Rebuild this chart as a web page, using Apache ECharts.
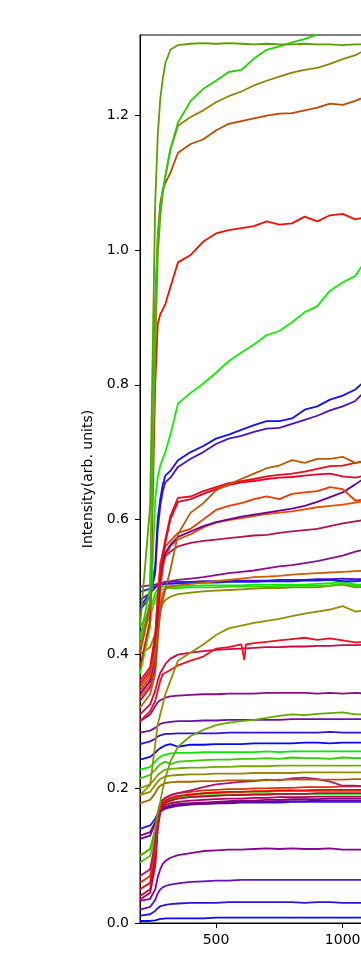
<!DOCTYPE html>
<html>
<head>
<meta charset="utf-8">
<script src="https://cdn.jsdelivr.net/npm/echarts@6/dist/echarts.min.js"></script>
<style>
  html, body { margin: 0; padding: 0; background: #fff; }
  #chart { width: 361px; height: 977px; }
</style>
</head>
<body>
<div id="chart"></div>
<script>
// x positions shared by every curve
const xs = [200, 240, 260, 270, 280, 290, 300, 320, 350, 400, 450, 500, 550, 600, 650, 700, 750, 800, 850, 900, 950, 1000, 1050, 1100];

// upper curves (plateau above 0.6)
const s01 = [0.44, 0.62, 1.07, 1.17, 1.225, 1.255, 1.278, 1.298, 1.305, 1.307, 1.308, 1.307, 1.308, 1.307, 1.306, 1.307, 1.306, 1.306, 1.307, 1.306, 1.306, 1.305, 1.306, 1.306];
const s02 = [0.42, 0.50, 0.90, 1.02, 1.06, 1.09, 1.11, 1.15, 1.19, 1.222, 1.24, 1.252, 1.265, 1.268, 1.285, 1.298, 1.303, 1.309, 1.314, 1.321, 1.33, 1.335, 1.34, 1.345];
const s03 = [0.41, 0.48, 0.85, 0.99, 1.05, 1.085, 1.11, 1.15, 1.185, 1.198, 1.208, 1.22, 1.229, 1.236, 1.245, 1.252, 1.258, 1.264, 1.268, 1.271, 1.277, 1.284, 1.29, 1.30];
const s04 = [0.40, 0.47, 0.92, 1.02, 1.07, 1.09, 1.10, 1.115, 1.145, 1.158, 1.165, 1.178, 1.188, 1.192, 1.196, 1.20, 1.203, 1.204, 1.208, 1.212, 1.218, 1.216, 1.222, 1.23];
const s05 = [0.38, 0.45, 0.80, 0.89, 0.905, 0.912, 0.92, 0.945, 0.982, 0.993, 1.013, 1.025, 1.03, 1.033, 1.036, 1.043, 1.038, 1.04, 1.05, 1.043, 1.052, 1.054, 1.046, 1.05];
const s06 = [0.37, 0.44, 0.63, 0.662, 0.68, 0.69, 0.70, 0.726, 0.772, 0.788, 0.802, 0.818, 0.835, 0.848, 0.86, 0.874, 0.88, 0.893, 0.908, 0.917, 0.94, 0.952, 0.962, 0.99];
const s07 = [0.47, 0.49, 0.53, 0.60, 0.63, 0.652, 0.665, 0.672, 0.688, 0.70, 0.709, 0.72, 0.726, 0.733, 0.74, 0.746, 0.746, 0.75, 0.763, 0.768, 0.778, 0.784, 0.793, 0.81];
const s08 = [0.465, 0.485, 0.52, 0.585, 0.62, 0.642, 0.655, 0.662, 0.678, 0.69, 0.70, 0.712, 0.72, 0.724, 0.73, 0.735, 0.736, 0.742, 0.748, 0.754, 0.762, 0.768, 0.776, 0.795];
const s09 = [0.35, 0.37, 0.40, 0.43, 0.46, 0.48, 0.495, 0.525, 0.578, 0.61, 0.624, 0.643, 0.652, 0.66, 0.668, 0.676, 0.68, 0.688, 0.684, 0.69, 0.69, 0.693, 0.684, 0.686];
const s10 = [0.36, 0.38, 0.43, 0.48, 0.52, 0.55, 0.57, 0.605, 0.632, 0.634, 0.642, 0.648, 0.654, 0.657, 0.66, 0.664, 0.666, 0.668, 0.671, 0.675, 0.679, 0.68, 0.684, 0.688];
const s11 = [0.355, 0.375, 0.42, 0.47, 0.51, 0.54, 0.565, 0.60, 0.626, 0.63, 0.638, 0.645, 0.651, 0.655, 0.657, 0.66, 0.662, 0.663, 0.665, 0.667, 0.668, 0.664, 0.662, 0.666];
const s12 = [0.345, 0.365, 0.42, 0.49, 0.535, 0.55, 0.56, 0.568, 0.58, 0.586, 0.60, 0.614, 0.62, 0.624, 0.63, 0.634, 0.63, 0.638, 0.64, 0.642, 0.648, 0.645, 0.628, 0.63];
const s13 = [0.34, 0.36, 0.40, 0.46, 0.51, 0.535, 0.55, 0.562, 0.574, 0.582, 0.59, 0.596, 0.60, 0.604, 0.607, 0.61, 0.613, 0.616, 0.62, 0.626, 0.633, 0.64, 0.652, 0.665];
const s14 = [0.335, 0.355, 0.39, 0.44, 0.50, 0.53, 0.545, 0.56, 0.57, 0.578, 0.588, 0.595, 0.599, 0.602, 0.605, 0.608, 0.61, 0.612, 0.615, 0.618, 0.62, 0.622, 0.625, 0.628];
const s15 = [0.33, 0.35, 0.38, 0.43, 0.50, 0.53, 0.545, 0.552, 0.56, 0.565, 0.568, 0.57, 0.572, 0.574, 0.576, 0.577, 0.58, 0.582, 0.584, 0.586, 0.59, 0.594, 0.597, 0.60];

// curves around the 0.5 bundle
const s16 = [0.50, 0.502, 0.503, 0.504, 0.505, 0.506, 0.507, 0.508, 0.51, 0.512, 0.514, 0.517, 0.52, 0.522, 0.524, 0.527, 0.53, 0.532, 0.535, 0.538, 0.542, 0.546, 0.552, 0.556];
const s17 = [0.32, 0.34, 0.37, 0.42, 0.47, 0.49, 0.497, 0.50, 0.502, 0.504, 0.506, 0.508, 0.51, 0.512, 0.514, 0.515, 0.516, 0.518, 0.519, 0.52, 0.521, 0.522, 0.523, 0.524];
const s18 = [0.492, 0.497, 0.50, 0.502, 0.503, 0.503, 0.504, 0.504, 0.505, 0.505, 0.506, 0.506, 0.507, 0.507, 0.507, 0.508, 0.508, 0.508, 0.509, 0.509, 0.51, 0.508, 0.508, 0.509];
const s19 = [0.48, 0.49, 0.498, 0.503, 0.505, 0.506, 0.506, 0.507, 0.507, 0.507, 0.508, 0.508, 0.508, 0.509, 0.509, 0.509, 0.51, 0.51, 0.51, 0.511, 0.511, 0.512, 0.511, 0.511];
const s20 = [0.44, 0.465, 0.49, 0.497, 0.499, 0.50, 0.50, 0.501, 0.501, 0.501, 0.502, 0.502, 0.502, 0.502, 0.503, 0.503, 0.503, 0.503, 0.503, 0.504, 0.505, 0.508, 0.503, 0.503];
const s21 = [0.43, 0.455, 0.48, 0.49, 0.494, 0.496, 0.497, 0.498, 0.498, 0.499, 0.499, 0.499, 0.50, 0.50, 0.50, 0.50, 0.501, 0.501, 0.501, 0.501, 0.502, 0.505, 0.501, 0.501];
const s22 = [0.40, 0.41, 0.43, 0.45, 0.465, 0.475, 0.48, 0.485, 0.489, 0.491, 0.493, 0.494, 0.495, 0.496, 0.497, 0.498, 0.498, 0.499, 0.499, 0.499, 0.501, 0.503, 0.499, 0.50];
const s23 = [0.19, 0.205, 0.265, 0.295, 0.31, 0.325, 0.34, 0.36, 0.39, 0.402, 0.414, 0.428, 0.438, 0.442, 0.446, 0.449, 0.452, 0.456, 0.46, 0.463, 0.466, 0.471, 0.463, 0.465];
const s24 = [0.30, 0.315, 0.33, 0.345, 0.36, 0.37, 0.372, 0.376, 0.383, 0.39, 0.396, 0.408, 0.41, 0.414, 0.416, 0.418, 0.42, 0.422, 0.424, 0.421, 0.423, 0.42, 0.417, 0.418];
const s24DipX = [606, 612, 618];
const s24DipY = [0.414, 0.391, 0.414];
const s25 = [0.31, 0.325, 0.345, 0.36, 0.372, 0.378, 0.385, 0.393, 0.399, 0.402, 0.404, 0.406, 0.407, 0.408, 0.409, 0.41, 0.41, 0.411, 0.411, 0.412, 0.412, 0.413, 0.413, 0.414];
const s26 = [0.30, 0.31, 0.322, 0.328, 0.331, 0.333, 0.335, 0.337, 0.338, 0.339, 0.34, 0.34, 0.341, 0.341, 0.341, 0.342, 0.342, 0.342, 0.342, 0.341, 0.342, 0.341, 0.342, 0.341];

// lower curves
const s27 = [0.10, 0.11, 0.14, 0.165, 0.18, 0.20, 0.215, 0.24, 0.262, 0.278, 0.287, 0.294, 0.298, 0.30, 0.302, 0.305, 0.308, 0.31, 0.309, 0.311, 0.312, 0.313, 0.31, 0.31];
const s28 = [0.283, 0.286, 0.29, 0.293, 0.296, 0.297, 0.298, 0.299, 0.30, 0.30, 0.301, 0.301, 0.302, 0.302, 0.302, 0.302, 0.302, 0.303, 0.303, 0.303, 0.303, 0.303, 0.303, 0.303];
const s29 = [0.266, 0.27, 0.274, 0.277, 0.279, 0.28, 0.281, 0.281, 0.282, 0.282, 0.282, 0.282, 0.283, 0.283, 0.283, 0.283, 0.283, 0.283, 0.283, 0.283, 0.284, 0.283, 0.283, 0.283];
const s30 = [0.243, 0.247, 0.253, 0.257, 0.26, 0.262, 0.264, 0.266, 0.262, 0.265, 0.265, 0.266, 0.266, 0.266, 0.267, 0.267, 0.267, 0.267, 0.268, 0.268, 0.267, 0.268, 0.268, 0.268];
const s31 = [0.228, 0.232, 0.24, 0.244, 0.247, 0.249, 0.25, 0.252, 0.253, 0.253, 0.254, 0.254, 0.254, 0.254, 0.254, 0.255, 0.254, 0.255, 0.255, 0.255, 0.255, 0.255, 0.255, 0.255];
const s32 = [0.215, 0.22, 0.228, 0.232, 0.236, 0.238, 0.24, 0.236, 0.24, 0.241, 0.242, 0.243, 0.243, 0.244, 0.244, 0.245, 0.244, 0.246, 0.245, 0.245, 0.244, 0.246, 0.245, 0.245];
const s33 = [0.20, 0.206, 0.215, 0.22, 0.223, 0.226, 0.228, 0.229, 0.23, 0.231, 0.231, 0.232, 0.232, 0.233, 0.233, 0.233, 0.234, 0.234, 0.234, 0.234, 0.234, 0.234, 0.234, 0.234];
const s34 = [0.19, 0.195, 0.205, 0.21, 0.214, 0.216, 0.218, 0.219, 0.22, 0.221, 0.221, 0.222, 0.222, 0.222, 0.223, 0.223, 0.223, 0.223, 0.224, 0.224, 0.224, 0.224, 0.224, 0.224];
const s35 = [0.178, 0.183, 0.193, 0.20, 0.204, 0.206, 0.208, 0.209, 0.21, 0.21, 0.211, 0.211, 0.212, 0.212, 0.212, 0.212, 0.213, 0.213, 0.213, 0.213, 0.213, 0.213, 0.214, 0.214];
const s36 = [0.07, 0.08, 0.12, 0.16, 0.178, 0.183, 0.186, 0.19, 0.193, 0.197, 0.202, 0.206, 0.208, 0.21, 0.211, 0.213, 0.212, 0.215, 0.216, 0.214, 0.21, 0.204, 0.204, 0.203];
const s37 = [0.06, 0.07, 0.11, 0.155, 0.175, 0.182, 0.186, 0.19, 0.193, 0.195, 0.197, 0.198, 0.199, 0.199, 0.2, 0.2, 0.201, 0.201, 0.202, 0.202, 0.202, 0.203, 0.203, 0.203];
const s38 = [0.05, 0.06, 0.10, 0.15, 0.172, 0.178, 0.182, 0.186, 0.189, 0.191, 0.193, 0.194, 0.195, 0.195, 0.196, 0.196, 0.197, 0.197, 0.197, 0.198, 0.198, 0.198, 0.198, 0.198];
const s39 = [0.04, 0.05, 0.09, 0.145, 0.168, 0.175, 0.179, 0.182, 0.185, 0.187, 0.188, 0.189, 0.19, 0.19, 0.191, 0.191, 0.192, 0.192, 0.192, 0.193, 0.193, 0.193, 0.193, 0.193];
const s40 = [0.035, 0.045, 0.085, 0.14, 0.165, 0.172, 0.175, 0.178, 0.18, 0.182, 0.183, 0.184, 0.185, 0.185, 0.186, 0.186, 0.187, 0.187, 0.187, 0.188, 0.188, 0.188, 0.188, 0.188];
const s41 = [0.13, 0.135, 0.15, 0.16, 0.167, 0.17, 0.172, 0.175, 0.177, 0.178, 0.179, 0.18, 0.181, 0.182, 0.182, 0.183, 0.183, 0.184, 0.184, 0.184, 0.185, 0.185, 0.185, 0.185];
const s42 = [0.125, 0.13, 0.148, 0.158, 0.165, 0.168, 0.17, 0.172, 0.174, 0.176, 0.177, 0.178, 0.179, 0.18, 0.18, 0.18, 0.181, 0.181, 0.181, 0.182, 0.182, 0.182, 0.182, 0.182];
const s43 = [0.14, 0.145, 0.155, 0.163, 0.168, 0.17, 0.172, 0.174, 0.176, 0.177, 0.177, 0.178, 0.178, 0.179, 0.179, 0.179, 0.179, 0.18, 0.18, 0.18, 0.18, 0.18, 0.18, 0.18];
const s44 = [0.10, 0.11, 0.13, 0.15, 0.165, 0.172, 0.177, 0.182, 0.186, 0.188, 0.189, 0.19, 0.19, 0.191, 0.191, 0.191, 0.192, 0.192, 0.192, 0.192, 0.192, 0.192, 0.192, 0.192];
const s45 = [0.09, 0.10, 0.125, 0.15, 0.168, 0.176, 0.18, 0.184, 0.188, 0.19, 0.192, 0.193, 0.194, 0.195, 0.195, 0.195, 0.196, 0.196, 0.196, 0.196, 0.196, 0.196, 0.196, 0.196];
const s46 = [0.033, 0.036, 0.05, 0.068, 0.08, 0.088, 0.092, 0.097, 0.101, 0.104, 0.107, 0.108, 0.109, 0.109, 0.11, 0.111, 0.11, 0.111, 0.11, 0.11, 0.111, 0.109, 0.109, 0.109];
const s47 = [0.02, 0.024, 0.034, 0.044, 0.05, 0.053, 0.055, 0.057, 0.059, 0.061, 0.062, 0.063, 0.063, 0.064, 0.064, 0.064, 0.064, 0.064, 0.064, 0.064, 0.064, 0.064, 0.064, 0.064];
const s48 = [0.011, 0.013, 0.018, 0.022, 0.025, 0.026, 0.027, 0.028, 0.029, 0.03, 0.03, 0.03, 0.031, 0.031, 0.031, 0.031, 0.031, 0.031, 0.03, 0.031, 0.031, 0.03, 0.03, 0.03];
const s49 = [0.003, 0.003, 0.004, 0.005, 0.006, 0.006, 0.007, 0.007, 0.007, 0.007, 0.007, 0.008, 0.008, 0.008, 0.008, 0.008, 0.008, 0.008, 0.008, 0.008, 0.008, 0.008, 0.008, 0.008];

const xTicks = [500, 1000];
const yTicks = [0, 0.2, 0.4, 0.6, 0.8, 1.0, 1.2];

const curves = [s49, s48, s47, s46, s45, s44, s43, s42, s41, s40, s39, s38, s37, s36, s35, s34, s33, s32, s31, s30, s29, s28, s27,
  s26, s25, s24, s23, s22, s21, s20, s19, s18, s17, s16,
  s15, s14, s13, s12, s11, s10, s09, s08, s07, s06, s05, s04, s03, s02, s01];

const curveColors = ['#0a0aff', '#3412dc', '#6610bb', '#880098', '#48c400', '#00dc00', '#2020ee', '#6800a8', '#880078', '#aa0058', '#d00030', '#f00000', '#e03000', '#b81064', '#a86400', '#968800', '#74aa00', '#34cc00', '#00ec00', '#0808f0', '#3512d8', '#6a10a8', '#66a800',
  '#8a0a8a', '#cc0848', '#f0101a', '#988c00', '#8a8a00', '#3ad400', '#00f000', '#4c10cc', '#1818f0', '#c86000', '#881090',
  '#b8104e', '#f04a00', '#6a0098', '#f03800', '#e8002a', '#f00818', '#b85800', '#4a12c8', '#1212f0', '#10f000', '#f01000', '#c04800', '#928300', '#25d000', '#5a9f00'];

const chart = echarts.init(document.getElementById('chart'), null, { renderer: 'canvas' });

const series = curves.map((vals, i) => {
  let data = xs.map((x, j) => [x, vals[j]]);
  if (vals === s24) {
    data = data.concat(s24DipX.map((x, j) => [x, s24DipY[j]])).sort((a, b) => a[0] - b[0]);
  }
  return {
    type: 'line',
    data,
    symbol: 'none',
    showSymbol: false,
    clip: true,
    silent: true,
    lineStyle: { width: 1.8, color: curveColors[i] },
    itemStyle: { color: curveColors[i] },
  };
});

const axisFont = { fontFamily: 'DejaVu Sans', fontSize: 14, color: '#000' };

chart.setOption({
  animation: false,
  backgroundColor: '#fff',
  grid: {
    left: 140,
    top: 35,
    width: 228,
    height: 888,
    containLabel: false,
    outerBoundsMode: 'none',
    show: true,
    borderColor: '#000',
    borderWidth: 1,
  },
  xAxis: {
    type: 'value',
    min: 200,
    max: 1100,
    axisLine: { lineStyle: { color: '#000', width: 1 } },
    axisTick: { length: 5, lineStyle: { color: '#000' }, customValues: xTicks },
    axisLabel: { ...axisFont, margin: 10, customValues: xTicks, formatter: v => String(v) },
    splitLine: { show: false },
  },
  yAxis: {
    type: 'value',
    min: 0,
    max: 1.32,
    name: 'Intensity(arb. units)',
    nameLocation: 'middle',
    nameGap: 45,
    nameTextStyle: { fontFamily: 'DejaVu Sans', fontSize: 14, color: '#000' },
    axisLine: { show: true, lineStyle: { color: '#000', width: 1 } },
    axisTick: { show: true, length: 5, lineStyle: { color: '#000' }, customValues: yTicks },
    axisLabel: { ...axisFont, margin: 11, customValues: yTicks, formatter: v => v.toFixed(1) },
    splitLine: { show: false },
  },
  series,
});
</script>
</body>
</html>
